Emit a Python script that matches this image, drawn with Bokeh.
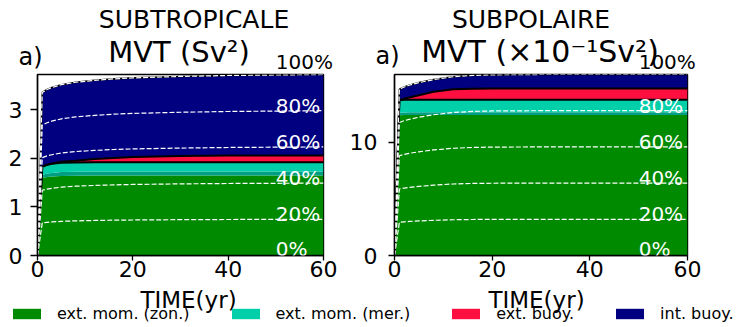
import numpy as np
from bokeh.plotting import figure
from bokeh.models import Range1d, FixedTicker, Label, Legend, LegendItem, ColumnDataSource
from bokeh.layouts import column, row
from bokeh.embed import file_html
from bokeh.resources import INLINE

FONT = "DejaVu Sans"

# ---------------- data ----------------
TIME = [0, 1, 2, 3, 5, 8, 12, 16, 20, 30, 40, 50, 60]
X_TICKS = [0, 20, 40, 60]
PCTS = [20, 40, 60, 80, 100]
PCT_LABELS = [0, 20, 40, 60, 80]
LABEL_T = 50

LEGEND_NAMES = ["ext. mom. (zon.)", "ext. mom. (mer.)", "ext. buoy.", "int. buoy."]
COLORS = ["#008a00", "#00cfaa", "#ff0f3f", "#000080"]
DARK_TEAL = "#009e82"

# subtropical gyre, Sv^2
st_zon  = [0, 1.60, 1.62, 1.63, 1.64, 1.645, 1.65, 1.65, 1.65, 1.65, 1.65, 1.65, 1.65]
st_merd = [0, 0.06, 0.07, 0.07, 0.08, 0.08, 0.08, 0.08, 0.08, 0.08, 0.08, 0.08, 0.08]
st_mer  = [0, 0.17, 0.18, 0.19, 0.19, 0.19, 0.19, 0.19, 0.19, 0.19, 0.19, 0.19, 0.19]
st_buoy = [0, 0.0, 0.0, 0.005, 0.02, 0.04, 0.07, 0.09, 0.11, 0.13, 0.14, 0.14, 0.14]
st_int  = [0, 1.53, 1.55, 1.565, 1.59, 1.615, 1.62, 1.63, 1.63, 1.64, 1.65, 1.66, 1.67]
st_yticks = [0, 1, 2, 3]

# subpolar gyre, x10^-1 Sv^2
sp_zon  = [0, 12.40, 12.42, 12.43, 12.43, 12.43, 12.43, 12.43, 12.43, 12.43, 12.43, 12.43, 12.43]
sp_merd = [0, 0.22, 0.23, 0.23, 0.23, 0.23, 0.23, 0.23, 0.23, 0.23, 0.23, 0.23, 0.23]
sp_mer  = [0, 1.10, 1.11, 1.11, 1.11, 1.11, 1.11, 1.11, 1.11, 1.11, 1.11, 1.11, 1.11]
sp_buoy = [0, 0.0, 0.10, 0.20, 0.40, 0.70, 0.92, 0.98, 1.00, 1.00, 1.00, 1.00, 1.00]
sp_int  = [0, 0.98, 1.04, 1.08, 1.11, 1.08, 1.11, 1.17, 1.20, 1.23, 1.23, 1.23, 1.23]
sp_yticks = [0, 10]

# ---------------- layout (pixels) ----------------
W = 746
HEAD_H = 73
FRAME_H = 181
BOTTOM = 31
PANEL_H = 1 + FRAME_H + BOTTOM
FOOT_H = 327 - HEAD_H - PANEL_H
P1 = dict(left=0, width=340, bl=37, br=17)
P2 = dict(left=340, width=406, bl=54, br=59)
BASE_K = 0.34  # text baseline correction (fraction of font size)


def frame_geom(P):
    fl = P["left"] + P["bl"]
    fw = P["width"] - P["bl"] - P["br"]
    return fl, fw


def panel(P, layers, yticks, tick_out, tick_standoff):
    t = np.array(TIME, float)
    zon, merd, mer, buoy, intb = [np.array(a, float) for a in layers]
    total = zon + merd + mer + buoy + intb
    p = figure(width=P["width"], height=PANEL_H, output_backend="svg", toolbar_location=None,
               x_range=Range1d(0, 60), y_range=Range1d(0, float(total.max())),
               min_border_left=P["bl"], min_border_right=P["br"], min_border_top=1,
               min_border_bottom=BOTTOM)
    p.grid.visible = False
    p.background_fill_color = "white"
    p.border_fill_color = "white"
    p.outline_line_color = "black"
    p.outline_line_width = 1.4
    p.outline_line_alpha = 1

    src = ColumnDataSource(dict(t=t, zon=zon, merd=merd, mer=mer, buoy=buoy, intb=intb))
    p.varea_stack(["zon", "merd", "mer", "buoy", "intb"], x="t", source=src,
                  color=[COLORS[0], DARK_TEAL, COLORS[1], COLORS[2], COLORS[3]])
    mom_top = zon + merd + mer
    p.line(t, mom_top, line_color="black", line_width=2)
    p.line(t, mom_top + buoy, line_color="black", line_width=2)
    p.line(t, total, line_color="black", line_width=1.6)
    for pc in PCTS:
        p.line(t, pc / 100.0 * total, line_color="white", line_width=1.2, line_dash="5 2")

    i50 = TIME.index(LABEL_T)
    for pc in PCT_LABELS:
        p.add_layout(Label(x=LABEL_T, y=pc / 100.0 * total[i50], text=f"{pc}%",
                           text_font=FONT, text_font_size="20px", text_color="white",
                           text_align="left", text_baseline="alphabetic",
                           y_offset=7 if pc == 0 else 5))

    p.xaxis.ticker = FixedTicker(ticks=X_TICKS)
    p.yaxis.ticker = FixedTicker(ticks=yticks)
    for ax in (p.xaxis, p.yaxis):
        ax.major_label_text_font = FONT
        ax.major_label_text_font_size = "22px"
        ax.major_label_text_color = "black"
        ax.axis_line_color = "black"
        ax.axis_line_width = 1.4
        ax.major_tick_line_color = "black"
        ax.major_tick_line_width = 1.3
        ax.major_tick_in = 0
        ax.minor_tick_line_color = None
    p.xaxis.major_tick_out = 5
    p.yaxis.major_tick_out = tick_out
    p.xaxis.major_label_standoff = 0
    p.yaxis.major_label_standoff = tick_standoff
    return p


def text(fig, x, base_y, s, size, align="center", color="black"):
    # base_y: desired baseline in pixels from the top of the strip
    fig.add_layout(Label(x=x, y=base_y - BASE_K * size, text=s, text_font=FONT,
                         text_font_size=f"{size}px", text_color=color,
                         text_align=align, text_baseline="alphabetic"))


def strip(h):
    f = figure(width=W, height=h, output_backend="svg", toolbar_location=None,
               x_axis_location=None, y_axis_location=None, min_border=0,
               x_range=Range1d(0, W), y_range=Range1d(h, 0))
    f.grid.visible = False
    f.outline_line_color = None
    return f


p1 = panel(P1, [st_zon, st_merd, st_mer, st_buoy, st_int], st_yticks, 7, 8)
p2 = panel(P2, [sp_zon, sp_merd, sp_mer, sp_buoy, sp_int], sp_yticks, 6, 11)

# header: titles, panel letters and the 100% labels
head = strip(HEAD_H)
for P, region, mvt, msize, rdx, mdx, mbase, abase in (
        (P1, "SUBTROPICALE", "MVT (Sv²)", 29, 13.5, -1.5, 61.5, 65),
        (P2, "SUBPOLAIRE", "MVT (×10⁻¹Sv²)", 30, -10, -1, 61, 64)):
    fl, fw = frame_geom(P)
    text(head, fl + fw / 2 + rdx, 27, region, 25)
    text(head, fl + fw / 2 + mdx, mbase, mvt, msize)
    text(head, fl - 19, abase, "a)", 24, align="left")
    text(head, fl + fw * LABEL_T / 60.0, 68, "100%", 20, align="left")

# footer: x axis titles and legend
foot = strip(FOOT_H)
for P, dx in ((P1, 8), (P2, -4.5)):
    fl, fw = frame_geom(P)
    text(foot, fl + fw / 2 + dx, 21.5, "TIME(yr)", 23)

items = []
for name, col in zip(LEGEND_NAMES, COLORS):
    r = foot.varea(x=[0], y1=[0], y2=[0], fill_color=col)
    items.append(LegendItem(label=name, renderers=[r]))
legend = Legend(items=items, orientation="horizontal", location=(9, 4),
                padding=0, margin=0, spacing=38, glyph_width=35, glyph_height=13,
                label_height=13, label_standoff=13, label_text_font=FONT,
                label_text_font_size="16px", label_text_color="black",
                border_line_color=None, background_fill_alpha=0)
foot.add_layout(legend, "center")

layout = column(head, row(p1, p2), foot)
open("out.html", "w").write(file_html(layout, INLINE))
